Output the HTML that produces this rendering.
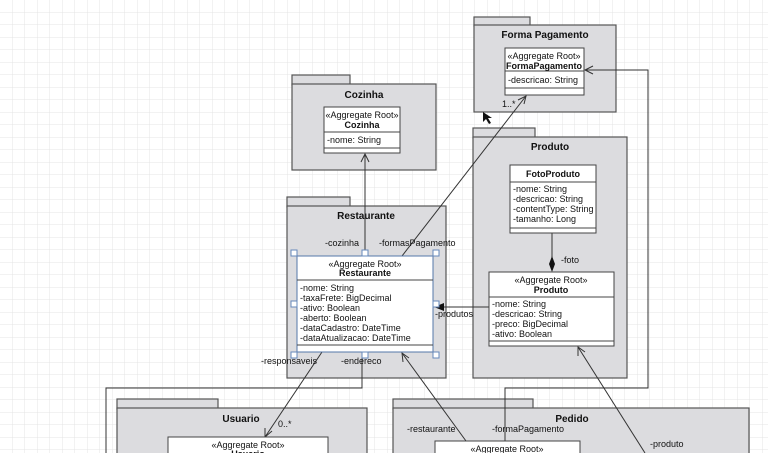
<!DOCTYPE html>
<html><head><meta charset="utf-8"><style>
html,body{margin:0;padding:0;background:#fff;}
svg{display:block;font-family:"Liberation Sans",sans-serif;}
</style></head><body>
<svg width="768" height="453" viewBox="0 0 768 453" xmlns="http://www.w3.org/2000/svg">
<defs>
<pattern id="g" width="12.5" height="12.5" patternUnits="userSpaceOnUse"><path d="M12.5 0V12.5H0" fill="none" stroke="#e4e4e4" stroke-width="1"/></pattern>
</defs>
<rect width="768" height="453" fill="#fff"/>
<rect width="768" height="453" fill="url(#g)"/>
<g stroke="#555" stroke-width="1.2" fill="#dcdcdf">
<!-- packages -->
<rect x="292" y="75" width="58" height="10"/><rect x="292" y="84" width="144" height="86"/>
<rect x="474" y="17" width="56" height="9"/><rect x="474" y="25" width="142" height="87"/>
<rect x="473" y="128" width="62" height="10"/><rect x="473" y="137" width="154" height="241"/>
<rect x="287" y="197" width="63" height="10"/><rect x="287" y="206" width="159" height="172"/>
<rect x="117" y="399" width="101" height="10"/><rect x="117" y="408" width="250" height="60"/>
<rect x="393" y="399" width="140" height="10"/><rect x="393" y="408" width="356" height="60"/>
</g>
<g font-size="10" font-weight="bold" fill="#111" text-anchor="middle">
<text x="364" y="98">Cozinha</text>
<text x="545" y="38">Forma Pagamento</text>
<text x="550" y="150">Produto</text>
<text x="366" y="219">Restaurante</text>
<text x="241" y="422">Usuario</text>
<text x="572" y="422">Pedido</text>
</g>
<!-- connectors -->
<g stroke="#333" stroke-width="1" fill="none">
<line x1="365" y1="256" x2="365" y2="154"/><path d="M361 162L365 154L369 162"/>
<line x1="402" y1="256" x2="526" y2="96"/><path d="M518 100L526 96L524 104"/>
<polyline points="505,441 505,388 648,388 648,70 585,70"/><path d="M593 66L585 70L593 74"/>
<polyline points="362,352 362,388 106,388 106,453"/>
<line x1="322" y1="352" x2="265" y2="437"/><path d="M265 428L265 437L272 431"/>
<line x1="466" y1="441" x2="402" y2="353"/><path d="M403 362L402 353L409 358"/>
<line x1="578" y1="347" x2="645" y2="453"/><path d="M578 356L578 347L585 352"/>
<line x1="489" y1="307" x2="434" y2="307"/>
<line x1="552" y1="233" x2="552" y2="258"/>
</g>
<path d="M434 307L444 303L444 311Z" fill="#111"/>
<path d="M552 256L555 264L552 272L549 264Z" fill="#111"/>
<!-- classes -->
<g stroke="#444" stroke-width="1" fill="#fff">
<rect x="324" y="107" width="76" height="46"/><line x1="324" y1="132" x2="400" y2="132"/><line x1="324" y1="148" x2="400" y2="148"/>
<rect x="505" y="48" width="79" height="47"/><line x1="505" y1="71" x2="584" y2="71"/><line x1="505" y1="88" x2="584" y2="88"/>
<rect x="510" y="165" width="86" height="68"/><line x1="510" y1="182" x2="596" y2="182"/><line x1="510" y1="228" x2="596" y2="228"/>
<rect x="489" y="272" width="125" height="74"/><line x1="489" y1="297" x2="614" y2="297"/><line x1="489" y1="341" x2="614" y2="341"/>
<rect x="297" y="256" width="136" height="96" stroke="#5577aa"/><line x1="297" y1="280" x2="433" y2="280"/><line x1="297" y1="345" x2="433" y2="345"/>
<rect x="168" y="437" width="160" height="30"/>
<rect x="435" y="441" width="145" height="30"/>
</g>
<g fill="#fff" stroke="#6688bb" stroke-width="1">
<rect x="291" y="250" width="6" height="6"/><rect x="362" y="250" width="6" height="6"/><rect x="433" y="250" width="6" height="6"/>
<rect x="291" y="301" width="6" height="6"/><rect x="433" y="301" width="6" height="6"/>
<rect x="291" y="352" width="6" height="6"/><rect x="362" y="352" width="6" height="6"/><rect x="433" y="352" width="6" height="6"/>
</g>
<g font-size="9" fill="#111">
<text x="362" y="118" text-anchor="middle">«Aggregate Root»</text>
<text x="362" y="128" text-anchor="middle" font-weight="bold">Cozinha</text>
<text x="327" y="143">-nome: String</text>
<text x="544" y="59" text-anchor="middle">«Aggregate Root»</text>
<text x="544" y="69" text-anchor="middle" font-weight="bold">FormaPagamento</text>
<text x="508" y="83">-descricao: String</text>
<text x="553" y="177" text-anchor="middle" font-weight="bold">FotoProduto</text>
<text x="513" y="192">-nome: String</text>
<text x="513" y="202">-descricao: String</text>
<text x="513" y="212">-contentType: String</text>
<text x="513" y="222">-tamanho: Long</text>
<text x="551" y="283" text-anchor="middle">«Aggregate Root»</text>
<text x="551" y="293" text-anchor="middle" font-weight="bold">Produto</text>
<text x="492" y="307">-nome: String</text>
<text x="492" y="317">-descricao: String</text>
<text x="492" y="327">-preco: BigDecimal</text>
<text x="492" y="337">-ativo: Boolean</text>
<text x="365" y="267" text-anchor="middle">«Aggregate Root»</text>
<text x="365" y="276" text-anchor="middle" font-weight="bold">Restaurante</text>
<text x="300" y="291">-nome: String</text>
<text x="300" y="301">-taxaFrete: BigDecimal</text>
<text x="300" y="311">-ativo: Boolean</text>
<text x="300" y="321">-aberto: Boolean</text>
<text x="300" y="331">-dataCadastro: DateTime</text>
<text x="300" y="341">-dataAtualizacao: DateTime</text>
<text x="248" y="448" text-anchor="middle">«Aggregate Root»</text>
<text x="248" y="457" text-anchor="middle" font-weight="bold">Usuario</text>
<text x="507" y="452" text-anchor="middle">«Aggregate Root»</text>
<text x="325" y="246">-cozinha</text>
<text x="379" y="246">-formasPagamento</text>
<text x="502" y="107">1..*</text>
<text x="435" y="317">-produtos</text>
<text x="561" y="263">-foto</text>
<text x="261" y="364">-responsaveis</text>
<text x="341" y="364">-endereco</text>
<text x="278" y="427">0..*</text>
<text x="407" y="432">-restaurante</text>
<text x="492" y="432">-formaPagamento</text>
<text x="650" y="447">-produto</text>
</g>
<path d="M483 112L483 122L486 119L489 124L491 123L488 118L492 118Z" fill="#111"/>
</svg>
</body></html>
